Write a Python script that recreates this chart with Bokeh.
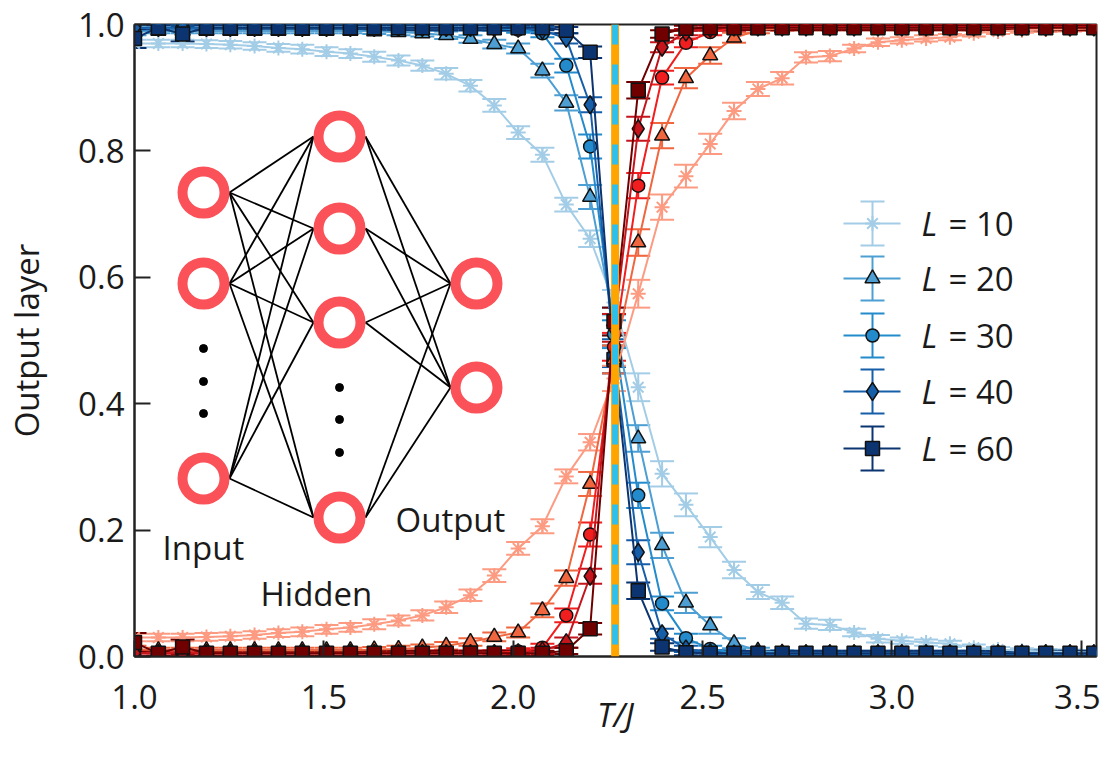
from bokeh.plotting import figure
from bokeh.models import ColumnDataSource, Whisker, TeeHead, Span, FixedTicker, Range1d, PrintfTickFormatter
from bokeh.core.properties import value
from bokeh.embed import file_html
from bokeh.resources import INLINE

# ---------------- data ----------------
T = [1.000, 1.063, 1.127, 1.190, 1.253, 1.317, 1.380, 1.443, 1.507, 1.570,
     1.633, 1.697, 1.760, 1.823, 1.887, 1.950, 2.013, 2.077, 2.140, 2.203,
     2.266, 2.330, 2.393, 2.456, 2.520, 2.583, 2.646, 2.710, 2.773, 2.836,
     2.900, 2.963, 3.026, 3.090, 3.153, 3.216, 3.280, 3.343, 3.406, 3.470, 3.533]

L_sizes = [10, 20, 30, 40, 60]

# output neuron 1 (ordered phase) ; neuron 2 is 1 - this
out_L10 = [0.970, 0.970, 0.970, 0.969, 0.968, 0.966, 0.963, 0.961, 0.957, 0.954,
           0.949, 0.943, 0.935, 0.922, 0.903, 0.872, 0.829, 0.794, 0.715, 0.661,
           0.560, 0.426, 0.289, 0.240, 0.189, 0.137, 0.102, 0.085, 0.052, 0.050,
           0.038, 0.028, 0.025, 0.022, 0.020, 0.014, 0.011, 0.009, 0.008, 0.007, 0.006]
out_L20 = [0.988, 0.990, 0.990, 0.990, 0.990, 0.990, 0.990, 0.990, 0.990, 0.990,
           0.989, 0.988, 0.986, 0.983, 0.977, 0.969, 0.962, 0.927, 0.876, 0.727,
           0.530, 0.345, 0.176, 0.085, 0.049, 0.021, 0.009, 0.006, 0.005, 0.005,
           0.005, 0.005, 0.005, 0.005, 0.005, 0.005, 0.005, 0.005, 0.005, 0.005, 0.005]
out_L30 = [0.995, 0.995, 0.995, 0.995, 0.995, 0.995, 0.995, 0.995, 0.995, 0.995,
           0.995, 0.995, 0.995, 0.995, 0.995, 0.994, 0.992, 0.986, 0.935, 0.807,
           0.510, 0.255, 0.084, 0.029, 0.012, 0.006, 0.004, 0.004, 0.004, 0.004,
           0.004, 0.004, 0.004, 0.004, 0.004, 0.004, 0.004, 0.004, 0.004, 0.004, 0.004]
out_L40 = [0.995, 0.995, 0.995, 0.995, 0.995, 0.995, 0.995, 0.995, 0.995, 0.995,
           0.995, 0.995, 0.995, 0.995, 0.995, 0.995, 0.994, 0.991, 0.978, 0.873,
           0.480, 0.165, 0.036, 0.012, 0.006, 0.004, 0.004, 0.004, 0.004, 0.004,
           0.004, 0.004, 0.004, 0.004, 0.004, 0.004, 0.004, 0.004, 0.004, 0.004, 0.004]
out_L60 = [0.978, 0.995, 0.985, 0.995, 0.995, 0.995, 0.995, 0.995, 0.995, 0.995,
           0.995, 0.995, 0.995, 0.995, 0.995, 0.995, 0.995, 0.995, 0.991, 0.956,
           0.470, 0.104, 0.015, 0.006, 0.005, 0.005, 0.005, 0.005, 0.005, 0.005,
           0.005, 0.005, 0.005, 0.005, 0.005, 0.005, 0.005, 0.005, 0.005, 0.005, 0.005]

err_L10 = [0.006, 0.006, 0.006, 0.006, 0.006, 0.006, 0.006, 0.007, 0.007, 0.007,
           0.008, 0.008, 0.008, 0.009, 0.009, 0.010, 0.010, 0.011, 0.011, 0.013,
           0.020, 0.022, 0.020, 0.018, 0.016, 0.013, 0.011, 0.010, 0.008, 0.008,
           0.006, 0.006, 0.005, 0.005, 0.005, 0.005, 0.004, 0.004, 0.004, 0.004, 0.004]
err_L20 = [0.005, 0.004, 0.004, 0.004, 0.004, 0.004, 0.004, 0.004, 0.004, 0.004,
           0.004, 0.005, 0.005, 0.006, 0.006, 0.007, 0.008, 0.011, 0.012, 0.019,
           0.022, 0.021, 0.020, 0.016, 0.013, 0.008, 0.005, 0.004, 0.004, 0.004,
           0.004, 0.004, 0.004, 0.004, 0.004, 0.004, 0.004, 0.004, 0.004, 0.004, 0.004]
err_L30 = [0.004, 0.004, 0.004, 0.004, 0.004, 0.004, 0.004, 0.004, 0.004, 0.004,
           0.004, 0.004, 0.004, 0.004, 0.004, 0.004, 0.005, 0.006, 0.011, 0.019,
           0.022, 0.020, 0.011, 0.007, 0.005, 0.004, 0.004, 0.004, 0.004, 0.004,
           0.004, 0.004, 0.004, 0.004, 0.004, 0.004, 0.004, 0.004, 0.004, 0.004, 0.004]
err_L40 = [0.004, 0.004, 0.004, 0.004, 0.004, 0.004, 0.004, 0.004, 0.004, 0.004,
           0.004, 0.004, 0.004, 0.004, 0.004, 0.004, 0.004, 0.005, 0.008, 0.012,
           0.022, 0.019, 0.008, 0.005, 0.004, 0.004, 0.004, 0.004, 0.004, 0.004,
           0.004, 0.004, 0.004, 0.004, 0.004, 0.004, 0.004, 0.004, 0.004, 0.004, 0.004]
err_L60 = [0.015, 0.004, 0.012, 0.004, 0.004, 0.004, 0.004, 0.004, 0.004, 0.004,
           0.004, 0.004, 0.004, 0.004, 0.004, 0.004, 0.004, 0.004, 0.005, 0.009,
           0.022, 0.013, 0.006, 0.004, 0.004, 0.004, 0.004, 0.004, 0.004, 0.004,
           0.004, 0.004, 0.004, 0.004, 0.004, 0.004, 0.004, 0.004, 0.004, 0.004, 0.004]

x_ticks = [1.0, 1.5, 2.0, 2.5, 3.0, 3.5]
y_ticks = [0.0, 0.2, 0.4, 0.6, 0.8, 1.0]
Tc = 2.269

legend_labels = ["= 10", "= 20", "= 30", "= 40", "= 60"]
net_labels = ["Input", "Hidden", "Output"]

# ---------------- styles ----------------
outs = {10: out_L10, 20: out_L20, 30: out_L30, 40: out_L40, 60: out_L60}
errs = {10: err_L10, 20: err_L20, 30: err_L30, 40: err_L40, 60: err_L60}
BLUE = {10: "#a3cde6", 20: "#4d9fd3", 30: "#238bcc", 40: "#175ea9", 60: "#0b3470"}
RED = {10: "#fc9b82", 20: "#f0663f", 30: "#f01e1e", 40: "#c4141c", 60: "#700000"}
MARK = {10: "asterisk", 20: "triangle", 30: "circle", 40: "diamond", 60: "square"}
MSIZE = {10: 15, 20: 15, 30: 13, 40: 18, 60: 14}
FONT = "Open Sans"
FS = "33px"

W, H = 1100, 750
FL, FR, FT, FB = 134, 1096, 24, 656     # frame edges in picture px
X0, X1 = 1.0, 3.54

p = figure(width=W, height=H, x_range=Range1d(X0, X1), y_range=Range1d(0, 1),
           output_backend="svg", toolbar_location=None,
           min_border_left=FL, min_border_right=W - FR,
           min_border_top=FT, min_border_bottom=H - FB)
p.grid.visible = False
p.outline_line_color = "#222222"
p.outline_line_width = 2
p.background_fill_color = "white"

for ax in (p.xaxis[0], p.yaxis[0]):
    ax.major_tick_in = 16
    ax.major_tick_out = 0
    ax.minor_tick_in = 0
    ax.minor_tick_out = 0
    ax.axis_line_color = "#222222"
    ax.axis_line_width = 2
    ax.major_tick_line_color = "#222222"
    ax.major_tick_line_width = 2
    ax.major_label_text_font = FONT
    ax.major_label_text_font_size = FS
    ax.major_label_text_color = "#1a1a1a"
    ax.axis_label_text_font = FONT
    ax.axis_label_text_font_size = FS
    ax.axis_label_text_color = "#1a1a1a"
    ax.formatter = PrintfTickFormatter(format="%.1f")

p.xaxis.ticker = FixedTicker(ticks=x_ticks)
p.yaxis.ticker = FixedTicker(ticks=y_ticks)
p.xaxis.major_label_standoff = 28
p.yaxis.major_label_standoff = 10
p.xaxis.axis_label = "T/J"
p.xaxis.axis_label_text_font_style = "italic"
p.xaxis.axis_label_standoff = -20
p.yaxis.axis_label = "Output layer"
p.yaxis.axis_label_text_font_style = "normal"
p.yaxis.axis_label_standoff = 26


def px(X):   # picture pixel -> data x
    return X0 + (X - FL) / (FR - FL) * (X1 - X0)


def py(Y):   # picture pixel -> data y
    return (FB - Y) / (FB - FT)


cap = 24

# ---------------- curves ----------------
for palette, flip in ((BLUE, False), (RED, True)):
    for L in L_sizes:
        v = outs[L]
        e = errs[L]
        y = [1 - a for a in v] if flip else list(v)
        src = ColumnDataSource(dict(T=T, y=y, lo=[a - b for a, b in zip(y, e)],
                                    hi=[a + b for a, b in zip(y, e)]))
        col = palette[L]
        p.line("T", "y", source=src, line_color=col, line_width=2)
        p.add_layout(Whisker(base="T", lower="lo", upper="hi", source=src,
                             line_color=col, line_width=2,
                             lower_head=TeeHead(size=cap, line_color=col, line_width=2),
                             upper_head=TeeHead(size=cap, line_color=col, line_width=2)))
        if L == 10:
            p.scatter("T", "y", source=src, marker=MARK[L], size=MSIZE[L],
                      line_color=col, line_width=2, fill_color=None)
        else:
            p.scatter("T", "y", source=src, marker=MARK[L], size=MSIZE[L],
                      line_color="#111111", line_width=1.5, fill_color=col)

# critical temperature line
p.add_layout(Span(location=Tc, dimension="height", line_color="#ffa500", line_width=8))
p.add_layout(Span(location=Tc, dimension="height", line_color="#2ec0ec", line_width=6,
                  line_dash="20 20"))

# ---------------- legend (drawn by hand) ----------------
leg_y = [223, 278, 335, 391, 448]
for L, Y, lab in zip(L_sizes, leg_y, legend_labels):
    col = BLUE[L]
    p.segment(x0=[px(843)], y0=[py(Y)], x1=[px(900)], y1=[py(Y)], line_color=col, line_width=2)
    p.segment(x0=[px(872)], y0=[py(Y - 22)], x1=[px(872)], y1=[py(Y + 22)], line_color=col, line_width=2)
    p.segment(x0=[px(860), px(860)], y0=[py(Y - 22), py(Y + 22)],
              x1=[px(884), px(884)], y1=[py(Y - 22), py(Y + 22)], line_color=col, line_width=2)
    if L == 10:
        p.scatter([px(872)], [py(Y)], marker=MARK[L], size=MSIZE[L], line_color=col,
                  line_width=2, fill_color=None)
    else:
        p.scatter([px(872)], [py(Y)], marker=MARK[L], size=MSIZE[L], line_color="#111111",
                  line_width=1.5, fill_color=col)
    p.text([px(921)], [py(Y)], text=["L"], text_font=value(FONT), text_font_size=FS,
           text_font_style="italic", text_baseline="middle", text_align="left",
           text_color="#1a1a1a")
    p.text([px(948)], [py(Y)], text=[lab], text_font=value(FONT), text_font_size=FS,
           text_baseline="middle", text_align="left", text_color="#1a1a1a")

# ---------------- network inset ----------------
inp = [(203, 192), (203, 283), (203, 478)]
hid = [(339, 136), (339, 228), (339, 322), (339, 517)]
outn = [(476, 283), (476, 387)]
R = 26
x0s, y0s, x1s, y1s = [], [], [], []
for a in inp:
    for b in hid:
        x0s.append(px(a[0] + R)); y0s.append(py(a[1]))
        x1s.append(px(b[0] - R)); y1s.append(py(b[1]))
for a in hid:
    for b in outn:
        x0s.append(px(a[0] + R)); y0s.append(py(a[1]))
        x1s.append(px(b[0] - R)); y1s.append(py(b[1]))
p.segment(x0=x0s, y0=y0s, x1=x1s, y1=y1s, line_color="black", line_width=1.8)

nodes = inp + hid + outn
p.scatter([px(a[0]) for a in nodes], [py(a[1]) for a in nodes], marker="circle",
          size=42, fill_color="white", fill_alpha=0.0, line_color="#fa5258", line_width=10)
dots = [(203, 348), (203, 381), (203, 413), (339, 387), (339, 419), (339, 452)]
p.scatter([px(a[0]) for a in dots], [py(a[1]) for a in dots], marker="circle", size=8,
          fill_color="black", line_color="black")

lab_pos = [(162, 547), (260, 593), (395, 519)]
p.text([px(a[0]) for a in lab_pos], [py(a[1]) for a in lab_pos], text=net_labels,
       text_font=value(FONT), text_font_size=FS, text_baseline="middle",
       text_align="left", text_color="#1a1a1a")

open("out.html", "w").write(file_html(p, INLINE))
